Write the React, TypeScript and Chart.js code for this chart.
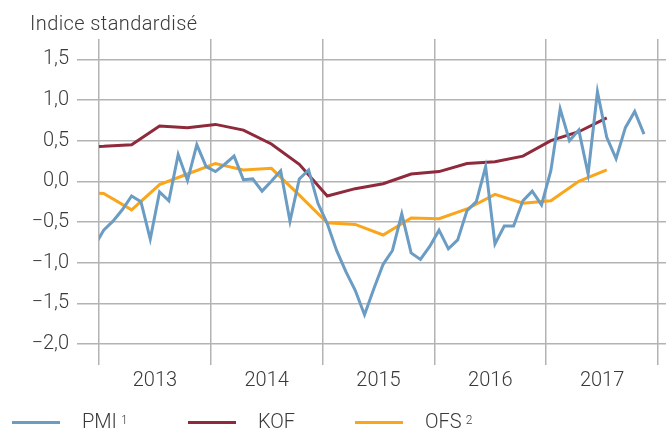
import React, { useEffect, useRef } from 'react';
import { Chart, registerables } from 'chart.js';

Chart.register(...registerables);

// Monthly PMI, first value = Dec 2012
const pmiValues = [
  -0.80, -0.60, -0.49, -0.35, -0.18, -0.25, -0.71, -0.13, -0.24, 0.33, 0.01, 0.45, 0.18,
  0.12, 0.21, 0.31, 0.02, 0.03, -0.12, 0.00, 0.13, -0.49, 0.03, 0.14, -0.27,
  -0.52, -0.85, -1.11, -1.34, -1.64, -1.32, -1.02, -0.85, -0.40, -0.88, -0.96, -0.80,
  -0.60, -0.83, -0.72, -0.36, -0.25, 0.18, -0.77, -0.55, -0.55, -0.24, -0.12, -0.29,
  0.13, 0.89, 0.50, 0.63, 0.09, 1.10, 0.54, 0.28, 0.66, 0.86, 0.58,
];
const pmiStartMonth = -1;

// Quarterly KOF, first value = Q4 2012
const kofValues = [
  0.42, 0.43, 0.45, 0.68, 0.66, 0.70, 0.63, 0.46, 0.21, -0.18, -0.09, -0.03, 0.09,
  0.12, 0.22, 0.24, 0.31, 0.50, 0.61, 0.78,
];
// Quarterly OFS, first value = Q4 2012
const ofsValues = [
  -0.13, -0.15, -0.35, -0.04, 0.09, 0.22, 0.14, 0.16, -0.17, -0.51, -0.53, -0.66, -0.45,
  -0.46, -0.34, -0.16, -0.27, -0.24, 0.00, 0.14,
];
const quarterStartMonth = -3;

const yearLabels = ['2013', '2014', '2015', '2016', '2017'];
const yTickValues = [-2, -1.5, -1, -0.5, 0, 0.5, 1, 1.5];

const seriesNames = ['PMI', 'KOF', 'OFS'];
const seriesNotes = ['1', '', '2'];
const seriesColors = ['#6b9cc4', '#8e2a3b', '#f9a61c'];

const FONT = 'Roboto, "Liberation Sans", Arial, sans-serif';
const TEXT = '#3a3a3a';
const GRID = '#b3b3b3';

function monthly(values: number[], start: number) {
  return values.map((v, i) => ({ x: start + i + 0.5, y: v }));
}
function quarterly(values: number[], start: number) {
  return values.map((v, i) => ({ x: start + i * 3 + 0.5, y: v }));
}

export default function App() {
  const ref = useRef<HTMLCanvasElement>(null);

  useEffect(() => {
    document.body.style.margin = '0';
    const canvas = ref.current!;
    const tickFont = { family: FONT, size: 20, weight: 300 as any };
    const datasets = [
      monthly(pmiValues, pmiStartMonth),
      quarterly(kofValues, quarterStartMonth),
      quarterly(ofsValues, quarterStartMonth),
    ].map((data, i) => ({
      label: seriesNames[i],
      data,
      borderColor: seriesColors[i],
      backgroundColor: seriesColors[i],
      borderWidth: 3,
      pointRadius: 0,
      tension: 0,
      fill: false,
      clip: 0,
    }));

    const chart = new Chart(canvas, {
      type: 'line',
      data: { datasets: datasets as any },
      options: {
        animation: false,
        responsive: false,
        maintainAspectRatio: false,
        layout: { padding: { top: 39, left: 0, right: 0, bottom: 0 } },
        plugins: {
          legend: { display: false },
          tooltip: { enabled: false },
        },
        scales: {
          x: {
            type: 'linear',
            min: 0,
            max: 60.86,
            afterBuildTicks: (s: any) => {
              const t: any[] = [];
              for (let v = 0; v <= 60; v += 6) t.push({ value: v });
              s.ticks = t;
            },
            afterFit: (s: any) => {
              s.height = 86;
            },
            grid: {
              color: (ctx: any) =>
                ctx.tick && ctx.tick.value % 12 === 0 ? GRID : 'rgba(0,0,0,0)',
              lineWidth: 1.5,
              tickLength: 21,
            },
            border: { display: false },
            ticks: {
              autoSkip: false,
              maxRotation: 0,
              minRotation: 0,
              padding: 4,
              color: TEXT,
              font: tickFont,
              callback: (v: any) => {
                const n = Number(v);
                if (n % 12 === 6) return yearLabels[(n - 6) / 12] ?? '';
                return '';
              },
            },
          },
          y: {
            min: -2,
            max: 1.75,
            afterBuildTicks: (s: any) => {
              s.ticks = yTickValues.map((v) => ({ value: v }));
            },
            afterFit: (s: any) => {
              s.width = 99;
            },
            grid: {
              color: GRID,
              lineWidth: 1.5,
              tickLength: 22,
            },
            border: { display: false },
            ticks: {
              padding: 8,
              color: TEXT,
              font: tickFont,
              callback: (v: any) => {
                const n = Number(v);
                const s = Math.abs(n).toFixed(1).replace('.', ',');
                return n < -1e-9 ? '\u2212' + s : s;
              },
            },
          },
        },
      },
    });
    return () => chart.destroy();
  }, []);

  const legendX = [
    { line: 12, text: 82 },
    { line: 188, text: 258 },
    { line: 355, text: 425 },
  ];

  return (
    <div
      style={{
        position: 'relative',
        width: 666,
        height: 430,
        overflow: 'hidden',
        background: '#fff',
        fontFamily: FONT,
        color: TEXT,
        fontWeight: 300,
      }}
    >
      <canvas ref={ref} width={666} height={430} style={{ position: 'absolute', left: 0, top: 0 }} />
      <div
        style={{
          position: 'absolute',
          left: 30,
          top: 11,
          fontSize: 20,
          lineHeight: '24px',
          letterSpacing: '0.4px',
          whiteSpace: 'nowrap',
        }}
      >
        Indice standardisé
      </div>
      {seriesNames.map((name, i) => (
        <React.Fragment key={name}>
          <div
            style={{
              position: 'absolute',
              left: legendX[i].line,
              top: 421,
              width: 48,
              height: 3,
              background: seriesColors[i],
            }}
          />
          <div
            style={{
              position: 'absolute',
              left: legendX[i].text,
              top: 409,
              fontSize: 20,
              lineHeight: '24px',
              whiteSpace: 'nowrap',
            }}
          >
            {name}
            {seriesNotes[i] ? (
              <span style={{ fontSize: 12, verticalAlign: 'top', marginLeft: 4, position: 'relative', top: -1 }}>
                {seriesNotes[i]}
              </span>
            ) : null}
          </div>
        </React.Fragment>
      ))}
    </div>
  );
}
